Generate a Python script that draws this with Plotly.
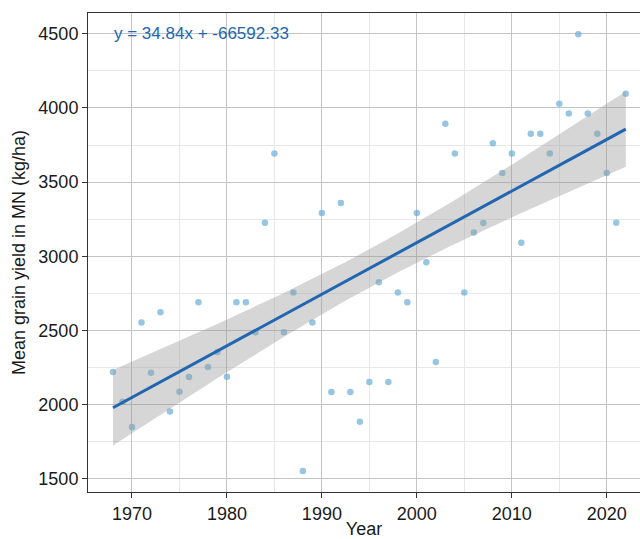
import numpy as np
import plotly.graph_objects as go

years = list(range(1968, 2023))
yields = [2220, 2020, 1850, 2555, 2215, 2623, 1954, 2088, 2187, 2690,
          2255, 2356, 2189, 2690, 2690, 2488, 3227, 3694, 2488, 2757,
          1554, 2555, 3292, 2086, 3360, 2086, 1886, 2154, 2825, 2154,
          2757, 2690, 3292, 2960, 2288, 3894, 3694, 2757, 3160, 3225,
          3762, 3562, 3694, 3092, 3827, 3827, 3694, 4029, 3962, 4496,
          3962, 3827, 3562, 3227, 4096]
eq_label = "y = 34.84x + -66592.33"

x = np.array(years, dtype=float)
y = np.array(yields, dtype=float)
n = len(x)
slope, intercept = np.polyfit(x, y, 1)
xs = np.linspace(x.min(), x.max(), 80)
fit = slope * xs + intercept
resid = y - (slope * x + intercept)
s = np.sqrt(np.sum(resid ** 2) / (n - 2))
sxx = np.sum((x - x.mean()) ** 2)
tval = 2.0057
half = tval * s * np.sqrt(1.0 / n + (xs - x.mean()) ** 2 / sxx)

fig = go.Figure()
fig.add_trace(go.Scatter(x=x, y=y, mode="markers",
                         marker=dict(size=6.5, color="rgba(107,174,214,0.7)", line=dict(width=0)),
                         showlegend=False, hoverinfo="skip"))
fig.add_trace(go.Scatter(x=np.concatenate([xs, xs[::-1]]),
                         y=np.concatenate([fit + half, (fit - half)[::-1]]),
                         fill="toself", fillcolor="rgba(153,153,153,0.4)",
                         line=dict(width=0), mode="lines", showlegend=False, hoverinfo="skip"))
fig.add_trace(go.Scatter(x=xs, y=fit, mode="lines",
                         line=dict(color="#2166b0", width=3), showlegend=False, hoverinfo="skip"))

fig.add_annotation(x=1968, y=4500, text=eq_label, showarrow=False, xanchor="left",
                   yanchor="middle", xshift=-1,
                   font=dict(family="Liberation Sans, Arial", size=17, color="#2166b0"))

axis_font = dict(family="Liberation Sans, Arial", size=18, color="#1a1a1a")
fig.update_layout(
    width=640, height=539,
    margin=dict(l=88, r=0, t=13, b=47),
    paper_bgcolor="white", plot_bgcolor="white",
    font=axis_font,
    xaxis=dict(range=[1965.37, 2023.5], tick0=1970, dtick=10,
               showgrid=True, gridcolor="#c4c4c4", gridwidth=1,
               minor=dict(dtick=5, tick0=1965, showgrid=True, gridcolor="#e8e8e8", gridwidth=1),
               showline=True, linecolor="#333333", linewidth=1, mirror=True,
               ticks="outside", ticklen=5, tickcolor="#333333",
               zeroline=False, tickfont=axis_font,
               title=dict(text="Year", font=axis_font, standoff=3)),
    yaxis=dict(range=[1412, 4640], tick0=1500, dtick=500,
               showgrid=True, gridcolor="#c4c4c4", gridwidth=1,
               minor=dict(dtick=250, tick0=1250, showgrid=True, gridcolor="#e8e8e8", gridwidth=1),
               showline=True, linecolor="#333333", linewidth=1,
               ticks="outside", ticklen=5, tickcolor="#333333",
               zeroline=False, tickfont=axis_font,
               title=dict(text="Mean grain yield in MN (kg/ha)", font=axis_font, standoff=8)),
)

fig.write_html("out.html", config={"displayModeBar": False},
               post_script="document.body.style.margin='0';document.body.style.overflow='hidden';")
